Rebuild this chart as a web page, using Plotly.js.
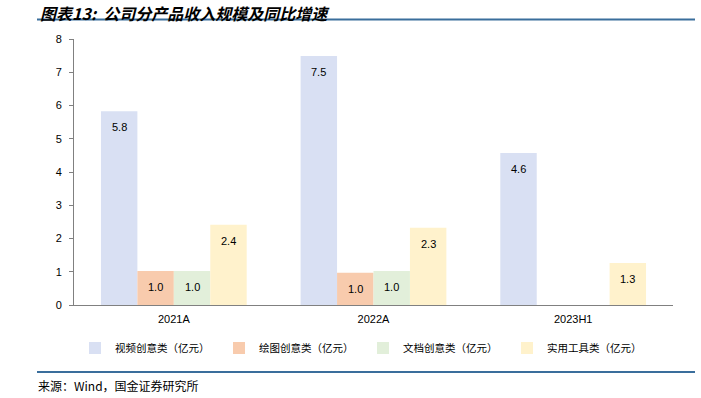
<!DOCTYPE html>
<html>
<head>
<meta charset="utf-8">
<script src="https://cdn.plot.ly/plotly-3.0.1.min.js"></script>
<style>html,body{margin:0;padding:0;background:#fff;}#chart{width:701px;height:398px;}</style>
</head>
<body>
<div id="chart"></div>
<script>
const categories = ["2021A", "2022A", "2023H1"];
const seriesNames = ["视频创意类（亿元）", "绘图创意类（亿元）", "文档创意类（亿元）", "实用工具类（亿元）"];
const videoValues = [5.83, 7.49, 4.57];
const drawingValues = [1.02, 0.97, null];
const documentValues = [1.02, 1.02, null];
const toolValues = [2.41, 2.32, 1.26];
const yTicks = [0, 1, 2, 3, 4, 5, 6, 7, 8];

const seriesValues = [videoValues, drawingValues, documentValues, toolValues];
const colors = ["#D9E0F3", "#F8CBAD", "#E2EFDA", "#FFF2CC"];
const bargap = 0.27;
const nSeries = seriesValues.length;
const barW = (1 - bargap) / nSeries;

const traces = seriesValues.map((vals, i) => ({
  type: "bar",
  name: seriesNames[i],
  x: categories,
  y: vals,
  marker: {color: colors[i], line: {width: 0}},
  hoverinfo: "skip"
}));

const annotations = [];
seriesValues.forEach((vals, i) => {
  vals.forEach((v, j) => {
    if (v === null) return;
    annotations.push({
      x: j + (i - (nSeries - 1) / 2) * barW,
      y: v, xref: "x", yref: "y",
      text: v.toFixed(1), showarrow: false,
      yanchor: "middle", yshift: -16,
      font: {family: "Liberation Sans, Arial, sans-serif", size: 11, color: "#000"}
    });
  });
});

annotations.push({
  xref: "paper", yref: "paper", x: (39 - 74) / 599, y: 1 + (39 - 0.5) / 266,
  xanchor: "left", yanchor: "top", showarrow: false, borderpad: 0,
  text: "<b><i>图表13:  公司分产品收入规模及同比增速</i></b>",
  font: {family: "Noto Sans CJK SC, sans-serif", size: 16, color: "#000"}
});
annotations.push({
  xref: "paper", yref: "paper", x: (36 - 74) / 599, y: -(385 - 305) / 266,
  xanchor: "left", yanchor: "middle", showarrow: false,
  text: "来源：Wind，国金证券研究所",
  font: {family: "Noto Sans CJK SC, sans-serif", size: 12, color: "#000"}
});

const layout = {
  width: 701, height: 398,
  margin: {l: 74, r: 28, t: 39, b: 93},
  paper_bgcolor: "#fff", plot_bgcolor: "#fff",
  barmode: "group", bargap: bargap, bargroupgap: 0,
  showlegend: true,
  legend: {
    orientation: "h", x: (75 - 74) / 599, xanchor: "left",
    y: -(348 - 305) / 266, yanchor: "middle",
    entrywidth: 99, entrywidthmode: "pixels",
    itemwidth: 30,
    font: {family: "Noto Sans CJK SC, sans-serif", size: 10.5, color: "#000"},
    traceorder: "normal"
  },
  xaxis: {
    type: "category", showline: true, linecolor: "#808080", linewidth: 1,
    ticks: "", showgrid: false, zeroline: false, ticklabelstandoff: 4,
    tickfont: {family: "Liberation Sans, Arial, sans-serif", size: 11, color: "#000"}
  },
  yaxis: {
    range: [0, 8], tickvals: yTicks, ticktext: yTicks.map(String),
    showline: true, linecolor: "#808080", linewidth: 1,
    ticks: "outside", ticklen: 4, tickcolor: "#808080",
    showgrid: false, zeroline: false, ticklabelstandoff: 5,
    tickfont: {family: "Liberation Sans, Arial, sans-serif", size: 11, color: "#000"}
  },
  shapes: [
    {type: "line", xref: "paper", yref: "paper", x0: (37 - 74) / 599, x1: (695 - 74) / 599,
     y0: 1 + (39 - 19.5) / 266, y1: 1 + (39 - 19.5) / 266, line: {color: "#3A6E9C", width: 2}},
    {type: "line", xref: "paper", yref: "paper", x0: (37 - 74) / 599, x1: (695 - 74) / 599,
     y0: -(372 - 305) / 266, y1: -(372 - 305) / 266, line: {color: "#3A6E9C", width: 2}}
  ],
  annotations: annotations
};

Plotly.newPlot("chart", traces, layout, {displayModeBar: false, staticPlot: true});
</script>
</body>
</html>
